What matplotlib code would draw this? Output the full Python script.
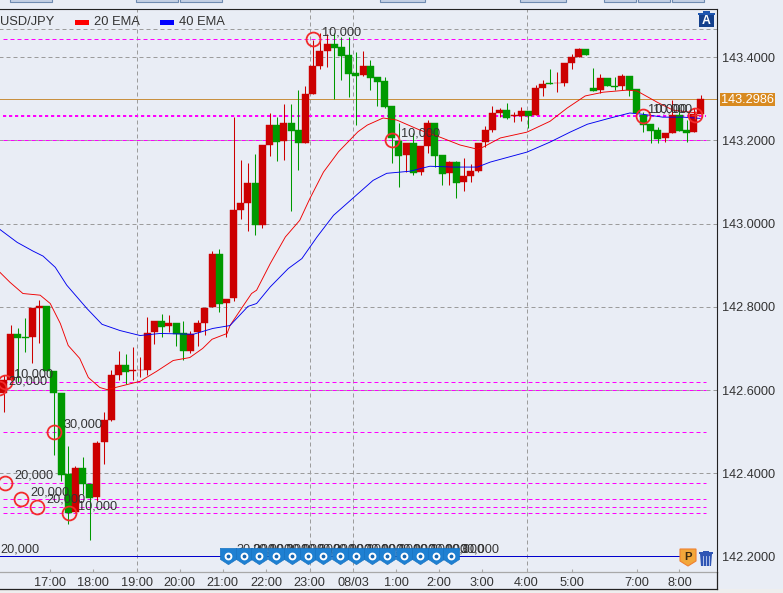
import matplotlib
matplotlib.use("Agg")
import matplotlib.pyplot as plt
from matplotlib.lines import Line2D
from matplotlib.patches import Polygon, Rectangle
from matplotlib.path import Path

W, H = 783, 593

# candles, one entry per bar (red = up, green = down)
opens = [142.593, 142.623, 142.734, 142.727, 142.727, 142.797, 142.802, 142.645, 142.594, 142.397,
         142.306, 142.412, 142.375, 142.344, 142.475, 142.529, 142.637, 142.659, 142.645, 142.648,
         142.649, 142.740, 142.765, 142.754, 142.760, 142.738, 142.695, 142.740, 142.761, 142.800,
         142.928, 142.810, 142.821, 143.032, 143.049, 143.097, 142.996, 143.188, 143.237, 143.199,
         143.241, 143.225, 143.194, 143.311, 143.380, 143.416, 143.432, 143.424, 143.405, 143.361,
         143.358, 143.379, 143.352, 143.343, 143.283, 143.198, 143.165, 143.195, 143.124, 143.187,
         143.241, 143.165, 143.122, 143.147, 143.099, 143.114, 143.127, 143.196, 143.225, 143.265,
         143.273, 143.258, 143.259, 143.271, 143.261, 143.326, 143.337, 143.337, 143.339, 143.385,
         143.400, 143.419, 143.325, 143.321, 143.349, 143.331, 143.331, 143.354, 143.323, 143.261,
         143.239, 143.225, 143.205, 143.218, 143.261, 143.225, 143.220, 143.263]
highs = [142.635, 142.756, 142.749, 142.774, 142.797, 142.817, 142.802, 142.645, 142.594, 142.466,
         142.418, 142.440, 142.375, 142.477, 142.548, 142.647, 142.695, 142.687, 142.703, 142.679,
         142.775, 142.765, 142.782, 142.780, 142.760, 142.766, 142.741, 142.768, 142.798, 142.934,
         142.938, 142.820, 143.257, 143.153, 143.146, 143.167, 143.188, 143.266, 143.257, 143.287,
         143.287, 143.321, 143.331, 143.441, 143.458, 143.456, 143.458, 143.449, 143.449, 143.413,
         143.415, 143.393, 143.352, 143.352, 143.283, 143.242, 143.195, 143.217, 143.186, 143.249,
         143.241, 143.165, 143.151, 143.150, 143.157, 143.143, 143.195, 143.234, 143.283, 143.279,
         143.289, 143.269, 143.281, 143.271, 143.334, 143.345, 143.371, 143.365, 143.385, 143.409,
         143.423, 143.419, 143.373, 143.360, 143.349, 143.352, 143.360, 143.354, 143.323, 143.269,
         143.239, 143.233, 143.217, 143.297, 143.281, 143.249, 143.277, 143.309]
lows = [142.547, 142.623, 142.619, 142.691, 142.665, 142.713, 142.645, 142.443, 142.381, 142.278,
        142.306, 142.350, 142.240, 142.334, 142.421, 142.525, 142.623, 142.615, 142.623, 142.631,
        142.637, 142.710, 142.728, 142.739, 142.707, 142.673, 142.689, 142.707, 142.732, 142.800,
        142.788, 142.727, 142.814, 143.012, 142.982, 142.972, 142.989, 143.162, 143.151, 143.154,
        143.030, 143.129, 143.193, 143.311, 143.372, 143.377, 143.299, 143.345, 143.305, 143.237,
        143.355, 143.321, 143.283, 143.278, 143.146, 143.088, 143.124, 143.116, 143.116, 143.169,
        143.136, 143.092, 143.092, 143.062, 143.078, 143.100, 143.124, 143.185, 143.221, 143.257,
        143.251, 143.245, 143.247, 143.231, 143.261, 143.306, 143.335, 143.317, 143.331, 143.372,
        143.400, 143.405, 143.319, 143.313, 143.331, 143.321, 143.321, 143.306, 143.261, 143.221,
        143.194, 143.194, 143.196, 143.217, 143.223, 143.196, 143.220, 143.263]
closes = [142.623, 142.734, 142.725, 142.724, 142.797, 142.802, 142.645, 142.593, 142.395, 142.304,
          142.412, 142.375, 142.341, 142.473, 142.528, 142.637, 142.659, 142.643, 142.647, 142.649,
          142.738, 142.765, 142.751, 142.760, 142.735, 142.694, 142.735, 142.760, 142.798, 142.928,
          142.808, 142.820, 143.032, 143.049, 143.097, 142.997, 143.188, 143.237, 143.197, 143.241,
          143.223, 143.193, 143.311, 143.380, 143.416, 143.432, 143.423, 143.404, 143.360, 143.355,
          143.379, 143.351, 143.340, 143.281, 143.206, 143.163, 143.195, 143.122, 143.186, 143.241,
          143.163, 143.119, 143.147, 143.098, 143.114, 143.126, 143.195, 143.225, 143.265, 143.273,
          143.255, 143.261, 143.271, 143.259, 143.325, 143.335, 143.335, 143.339, 143.385, 143.400,
          143.419, 143.405, 143.319, 143.349, 143.331, 143.328, 143.354, 143.321, 143.265, 143.238,
          143.223, 143.204, 143.217, 143.261, 143.223, 143.218, 143.263, 143.2986]

# moving averages, read at a handful of bar positions
ema20_pos = [-0.5, 0.9, 2.7, 5.1, 6.5, 7.9, 9.0, 10.6, 11.8, 13.4, 14.4, 19.0, 21.3, 23.6, 25.9, 27.7,
             29.0, 31.1, 31.5, 33.4, 34.5, 35.2, 37.1, 39.2, 41.2, 42.6, 44.5, 46.6, 49.3, 50.6, 52.8,
             54.7, 57.9, 60.7, 63.5, 65.9, 66.7, 69.1, 72.8, 76.0, 78.4, 80.9, 83.4, 86.7, 88.1, 90.9,
             93.1, 96.5]
ema20_val = [142.883, 142.859, 142.832, 142.828, 142.808, 142.760, 142.707, 142.676, 142.630, 142.606,
             142.601, 142.621, 142.645, 142.671, 142.678, 142.700, 142.722, 142.736, 142.755, 142.804,
             142.832, 142.840, 142.904, 142.968, 143.008, 143.060, 143.124, 143.173, 143.221, 143.237,
             143.254, 143.249, 143.225, 143.208, 143.189, 143.179, 143.184, 143.206, 143.220, 143.246,
             143.278, 143.307, 143.316, 143.321, 143.319, 143.292, 143.273, 143.266]
ema40_pos = [-0.5, 1.9, 4.1, 5.5, 7.2, 8.8, 10.4, 11.6, 13.7, 16.2, 19.0, 21.8, 26.4, 29.1, 31.5, 34.0,
             35.2, 37.1, 39.6, 41.5, 43.6, 45.9, 49.3, 51.4, 53.3, 56.5, 59.3, 62.5, 65.9, 67.7, 72.8,
             76.0, 78.8, 81.2, 84.4, 87.1, 88.9, 91.7, 94.5, 96.9]
ema40_val = [142.986, 142.955, 142.934, 142.922, 142.895, 142.852, 142.820, 142.796, 142.758, 142.743,
             142.731, 142.736, 142.734, 142.748, 142.755, 142.801, 142.808, 142.848, 142.892, 142.916,
             142.968, 143.020, 143.072, 143.104, 143.121, 143.126, 143.138, 143.136, 143.136, 143.148,
             143.172, 143.196, 143.220, 143.239, 143.254, 143.266, 143.263, 143.256, 143.256, 143.253]

# axis ticks
time_pos = [6.5, 12.5, 18.5, 24.5, 30.5, 36.5, 42.6, 48.6, 54.6, 60.6, 66.6, 72.75, 79.0, 88.1, 94.0]
time_labels = ["17:00", "18:00", "19:00", "20:00", "21:00", "22:00", "23:00", "08/03",
               "1:00", "2:00", "3:00", "4:00", "5:00", "7:00", "8:00"]
grid_times = [18.5, 42.6, 48.6, 72.75]
price_ticks = [143.4, 143.2, 143.0, 142.8, 142.6, 142.4, 142.2]
price_labels = ["143.4000", "143.2000", "143.0000", "142.8000", "142.6000", "142.4000", "142.2000"]

# horizontal levels
grey_levels = [143.469, 143.4, 143.2, 143.0, 142.8, 142.6, 142.4]
magenta_levels = [143.443, 143.2, 142.62, 142.6, 142.5, 142.377, 142.338, 142.319, 142.304]
open_level = 143.258
current_price = 143.2986
blue_level = 142.2

# trade circles
trade_pos = [0.2, -0.6, 7.0, 0.2, 2.4, 4.7, 9.1, 43.0, 54.0, 89.0, 96.2]
trade_price = [142.620, 142.604, 142.500, 142.377, 142.338, 142.319, 142.304, 143.443, 143.200, 143.258, 143.261]
trade_labels = ["10,000", "20,000", "30,000", "20,000", "20,000", "20,000", "10,000", "10,000", "10,000", "10,000", ""]

# position flags along the bottom
flag_pos = [31.2, 33.4, 35.6, 37.9, 40.1, 42.3, 44.5, 46.8, 49.0, 51.2, 53.4, 55.7, 57.9, 60.1, 62.3]
flag_labels = ["30,000", "20,000", "10,000", "20,000", "10,000", "30,000", "20,000", "10,000",
               "20,000", "10,000", "20,000", "10,000", "20,000", "10,000", "30,000"]

BG = "#E9EDF5"
RED = "#CC0000"
GREEN = "#009900"
GREY = "#9C9C9C"
MAGENTA = "#FF00FF"
TEXT = "#333333"
ORANGE = "#D88A20"

plt.rcParams["font.family"] = ["Liberation Sans", "DejaVu Sans"]
plt.rcParams["font.size"] = 9.2

fig = plt.figure(figsize=(W / 100, H / 100), dpi=100, facecolor=BG)
ax = fig.add_axes([0, 1 - 571.5 / H, 716.5 / W, (571.5 - 9.3) / H], facecolor=BG)


def fx(x):
    return x / W


def fy(y):
    return 1 - y / H


def box(x0, y0, x1, y1, **kw):
    fig.add_artist(Rectangle((fx(x0), fy(y1)), (x1 - x0) / W, (y1 - y0) / H,
                             transform=fig.transFigure, **kw))


ax.set_xlim(-0.487, 99.16)
ax.set_ylim(142.1637, 143.5153)

# grid and level lines, plain Line2D so they snap to whole pixels
dash = (0, (4, 3))
for v in grey_levels:
    ax.plot([-1, 100], [v, v], color=GREY, lw=0.72, ls=dash, zorder=1)
for t in grid_times:
    ax.plot([t, t], [142.1637, 143.5153], color=GREY, lw=0.72, ls=dash, zorder=1)
for v in magenta_levels:
    ax.plot([-0.1, 97.7], [v, v], color=MAGENTA, lw=0.72, ls=dash, zorder=2)
ax.plot([-0.1, 97.7], [open_level, open_level], color=MAGENTA, lw=1.44, ls=(0, (1.6, 1.4)), zorder=2)
ax.plot([-1, 100], [current_price, current_price], color="#C8903F", lw=0.72, zorder=2)
ax.plot([-1, 94.9], [blue_level, blue_level], color="#0000CC", lw=0.72, zorder=2)

# candles
bars = range(len(opens))
colors = [RED if c >= o else GREEN for o, c in zip(opens, closes)]
ax.vlines(bars, lows, highs, color=colors, lw=0.75, zorder=3)
ax.bar(bars, [abs(c - o) for o, c in zip(opens, closes)], bottom=[min(o, c) for o, c in zip(opens, closes)],
       width=0.97, color=colors, edgecolor=colors, linewidth=0.3, zorder=4)

# moving averages
ax.plot(ema20_pos, ema20_val, color="#F00000", lw=0.65, zorder=5)
ax.plot(ema40_pos, ema40_val, color="#0000F0", lw=0.65, zorder=5)

# flags with their amounts behind them
for p, lab in zip(flag_pos, flag_labels):
    ax.annotate(lab, (p, blue_level), xytext=(6.5, 5), textcoords="offset points", color=TEXT,
                va="center", ha="left", zorder=6)
flag_shape = Path([(-1, 1), (1, 1), (1, -0.35), (0, -1), (-1, -0.35), (-1, 1)])
ax.plot(flag_pos, [blue_level] * len(flag_pos), ls="", marker=flag_shape, ms=11.8, mfc="#1E80D2",
        mec="#1670BE", mew=0.4, zorder=7, clip_on=False)
ax.plot(flag_pos, [blue_level] * len(flag_pos), ls="", marker="o", ms=4.2, mfc="#1565B0", mec="white",
        mew=1.4, zorder=8, clip_on=False)

# trades
ax.plot(trade_pos, trade_price, ls="", marker="o", ms=10, mfc="none", mec="#F22B2B", mew=1.3, zorder=9)
ax.plot(trade_pos[-1], trade_price[-1], ls="", marker="+", ms=6, mec="#F22B2B", mew=1.0, zorder=9)
for p, v, lab in zip(trade_pos, trade_price, trade_labels):
    ax.annotate(lab, (p, v), xytext=(6.8, 5), textcoords="offset points", color=TEXT, va="center",
                ha="left", zorder=10, annotation_clip=False)
ax.annotate("10,000", (trade_pos[9], trade_price[9]), xytext=(3.6, 5), textcoords="offset points",
            color=TEXT, va="center", ha="left", zorder=10)
ax.annotate("20,000", (0, blue_level), xytext=(-2.5, 5.3), textcoords="offset points", color=TEXT,
            va="center", ha="left", zorder=10)

# axes
ax.spines["left"].set_visible(False)
ax.spines["top"].set_color("#222222")
ax.spines["right"].set_color("#222222")
ax.spines["bottom"].set_color("#A8A8A8")
ax.spines["bottom"].set_linewidth(0.9)
ax.yaxis.tick_right()
ax.set_yticks(price_ticks, price_labels)
ax.tick_params(axis="y", length=0, pad=4, labelcolor=TEXT, labelsize=9.2)
ax.set_xticks(time_pos, time_labels)
ax.tick_params(axis="x", length=2.5, direction="in", color="#A8A8A8", pad=3.6, labelcolor=TEXT, labelsize=9.2)

fig.add_artist(Line2D([0, fx(716.5)], [fy(588.5)] * 2, color="#222222", lw=0.9, transform=fig.transFigure))
fig.add_artist(Line2D([fx(716.5)] * 2, [fy(571.5), fy(588.5)], color="#222222", lw=0.9, transform=fig.transFigure))
box(0, 589, W, H, fc="#EEEEEE", ec="none", zorder=0.5)

# current price tag
box(720, 93, 775, 106, fc=ORANGE, ec="none", zorder=1)
fig.text(fx(747.5), fy(99.5), "143.2986", color="white", ha="center", va="center", zorder=3)

# legend row
fig.text(fx(0), fy(22), "USD/JPY", color=TEXT, ha="left", va="center", fontsize=9.3)
box(75, 20, 89, 24.5, fc="#FF0000", ec="none", zorder=2)
fig.text(fx(94), fy(22), "20 EMA", color=TEXT, ha="left", va="center", fontsize=9.3)
box(160, 20, 174, 24.5, fc="#0000FF", ec="none", zorder=2)
fig.text(fx(179), fy(22), "40 EMA", color=TEXT, ha="left", va="center", fontsize=9.3)

# toolbar stubs at the very top
for x0, x1 in [(10, 52), (136, 178), (180, 222), (380, 425.5), (520, 565.5), (604, 636), (638, 670), (672, 704)]:
    box(x0, -2, x1, 1.5, fc="#C4D0E4", ec="#6F8BB0", lw=0.8, zorder=2)

# trash icon with the A badge
box(698.5, 14, 714, 27, fc="#14408C", ec="none", zorder=2)
box(698, 13, 714.5, 15, fc="#1E56B0", ec="none", zorder=2)
box(702.5, 11, 710, 13.5, fc="#1E56B0", ec="none", zorder=2)
fig.text(fx(706.3), fy(21), "A", color="white", fontweight="bold", ha="center", va="center", fontsize=8.8, zorder=3)

# P flag and the second trash icon
fig.add_artist(Polygon([(fx(680), fy(549)), (fx(696), fy(549)), (fx(696), fy(561)), (fx(688), fy(566)), (fx(680), fy(561))],
                       closed=True, fc="#F2A73A", ec="#F08030", lw=0.8, transform=fig.transFigure, zorder=2))
fig.text(fx(688), fy(556.5), "P", color="#3A2A10", fontweight="bold", ha="center", va="center", fontsize=8.2, zorder=3)
fig.add_artist(Polygon([(fx(700), fy(554)), (fx(712), fy(554)), (fx(711), fy(566)), (fx(701), fy(566))],
                       closed=True, fc="#2F55B4", ec="none", transform=fig.transFigure, zorder=2))
box(699, 552, 713, 553.5, fc="#2F55B4", ec="none", zorder=2)
box(703, 550.5, 709, 552, fc="#2F55B4", ec="none", zorder=2)
for x in [703.2, 706, 708.8]:
    fig.add_artist(Line2D([fx(x)] * 2, [fy(556), fy(564.5)], color="#C8D4F0", lw=0.6, transform=fig.transFigure, zorder=3))

fig.savefig("out.png", dpi=100, facecolor=BG)
